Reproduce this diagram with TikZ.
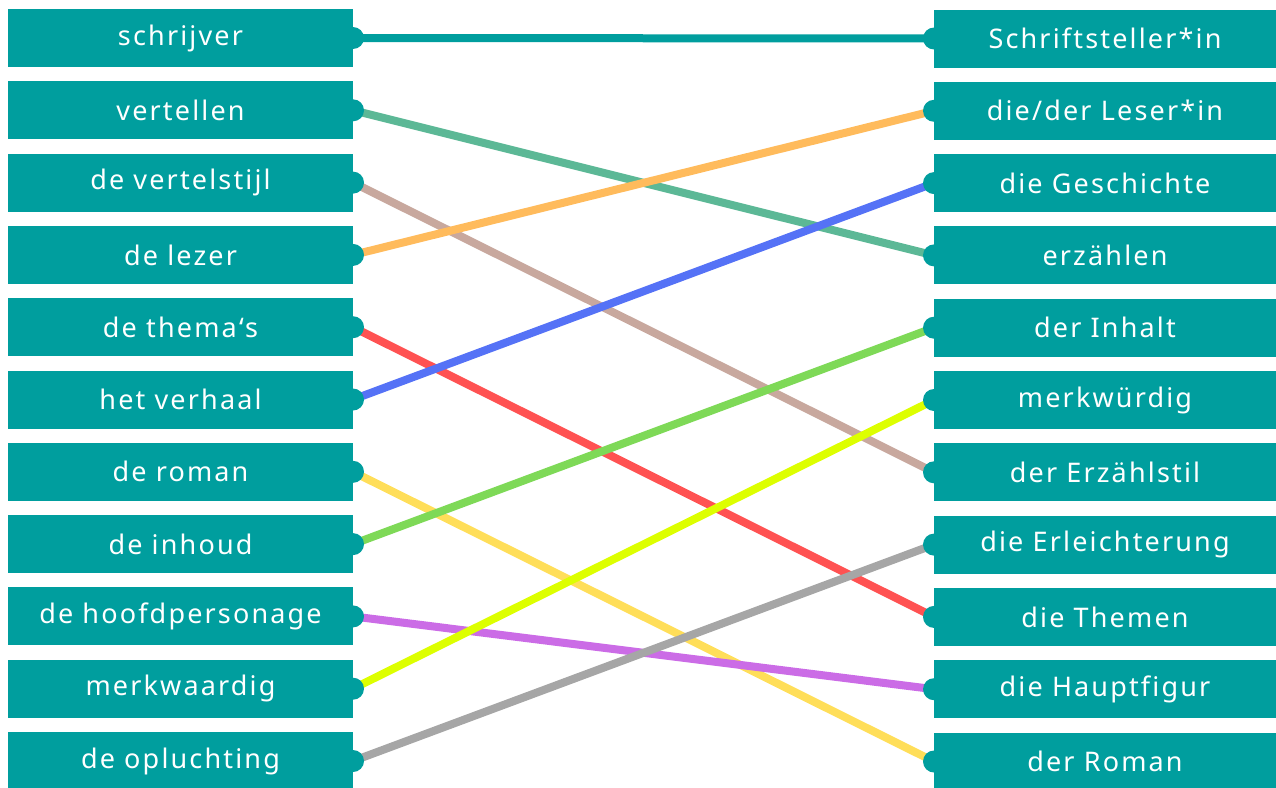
\documentclass[tikz,border=0pt]{standalone}
\usepackage{fontspec}
\setmainfont{Noto Sans}[LetterSpace=8,Ligatures={NoCommon}]
\definecolor{boxc}{HTML}{009E9E}
\definecolor{c0}{HTML}{009E9E}
\definecolor{c1}{HTML}{5CB896}
\definecolor{c2}{HTML}{C8A89E}
\definecolor{c3}{HTML}{FFBB5C}
\definecolor{c4}{HTML}{FF5252}
\definecolor{c5}{HTML}{5572F6}
\definecolor{c6}{HTML}{FFDE59}
\definecolor{c7}{HTML}{7ED957}
\definecolor{c8}{HTML}{CB6CE6}
\definecolor{c9}{HTML}{DDFF00}
\definecolor{c10}{HTML}{A6A6A6}
\tikzset{
  lbox/.style={fill=boxc, minimum width=345pt, minimum height=58pt, inner sep=0pt, text=white, font=\fontsize{27pt}{30pt}\selectfont},
  rbox/.style={fill=boxc, minimum width=342pt, minimum height=58pt, inner sep=0pt, text=white, font=\fontsize{27pt}{30pt}\selectfont},
  tab/.style={fill=boxc, circle, minimum size=22pt, inner sep=0pt},
  link/.style={line width=8pt}
}
\begin{document}
\begin{tikzpicture}[x=1pt,y=-1pt]
\useasboundingbox (0,0) rectangle (1276,787);
\foreach \t [count=\i from 0] in {a,b,c,d,e,f,g,h,j,k,l}{
  \coordinate (lt\i) at (353,{38+72.3*\i});
  \coordinate (rt\i) at (934,{38.5+72.3*\i});
}
\draw[link,c0] (lt0) -- (rt0);
\draw[link,c1] (lt1) -- (rt3);
\draw[link,c2] (lt2) -- (rt6);
\draw[link,c3] (lt3) -- (rt1);
\draw[link,c4] (lt4) -- (rt8);
\draw[link,c5] (lt5) -- (rt2);
\draw[link,c6] (lt6) -- (rt10);
\draw[link,c7] (lt7) -- (rt4);
\draw[link,c8] (lt8) -- (rt9);
\draw[link,c9] (lt9) -- (rt5);
\draw[link,c10] (lt10) -- (rt7);
\foreach \t [count=\i from 0] in {schrijver,vertellen,de vertelstijl,de lezer,de thema‘s,het verhaal,de roman,de inhoud,de hoofdpersonage,merkwaardig,de opluchting}{
  \node[lbox] (L\i) at (180.5,{38+72.3*\i}) {\t};
  \node[tab] (LT\i) at (lt\i) {};
}
\foreach \t [count=\i from 0] in {Schriftsteller*in,die/der Leser*in,die Geschichte,erzählen,der Inhalt,merkwürdig,der Erzählstil,die Erleichterung,die Themen,die Hauptfigur,der Roman}{
  \node[rbox] (R\i) at (1105,{38.5+72.3*\i}) {\t};
  \node[tab] (RT\i) at (rt\i) {};
}
\end{tikzpicture}
\end{document}
